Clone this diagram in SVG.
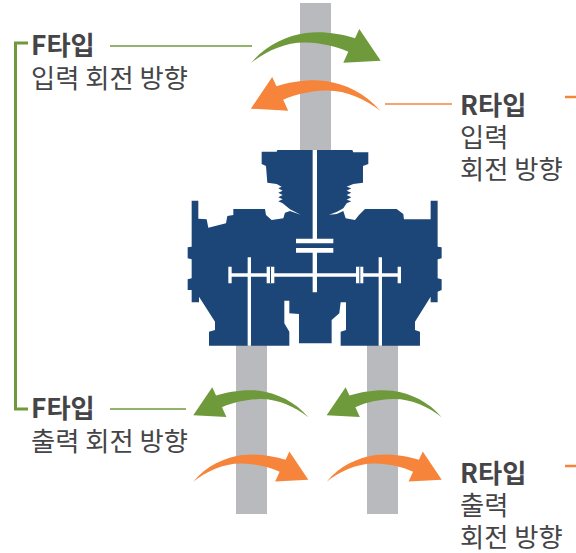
<svg xmlns="http://www.w3.org/2000/svg" width="576" height="553" viewBox="0 0 576 553">
<style>
text{font-family:"Noto Sans CJK KR","Noto Sans",sans-serif;fill:#454547;font-size:26.300px}
.b{font-weight:700}
.shaft{fill:#b9babe}
.g{fill:#6f9a3b}.o{fill:#f6853b}
.lg{stroke:#6f9a3b;fill:none;stroke-width:1.500}
.lo{stroke:#f6853b;fill:none;stroke-width:1.500}
.w{fill:#fff}
</style>
<defs>
<path id="arc" d="M0,0C15,-18 35,-27 55,-30C72,-32 90,-29 104,-24.700L108.300,-34L129.700,-2.300L92.300,-.3L97.300,-11.300C85,-17 70,-20 55,-20.500C35,-21 15,-12 0,0Z"/>
</defs>
<g id="shafts">
<rect class="shaft" x="300" y="3" width="31" height="150"/>
<rect class="shaft" x="236" y="345" width="31" height="169"/>
<rect class="shaft" x="367" y="345" width="31" height="169"/>
</g>
<g id="gearbox" transform="translate(180 140) scale(.3333)">
<path fill="#1c4678" d="M245,35L290,35 292,30 517,30 520,37 565,37 565,72 549,78 549,128 520,132 500,140 514,145 500,152 514,158 500,165 514,172 500,179 514,184 500,190 490,205 470,216 447,224 470,222 490,213 497,235 525,240 537,225 555,207 650,207 670,222 672,238 752,238 752,182 773,182 773,320 785,322 785,355 773,358 773,415 785,418 785,450 773,455 773,487 752,487 752,470 705,545 705,570 720,575 720,617 482,617 482,575 498,570 498,487 482,487 478,520 455,540 455,610 357,610 357,522 328,520 328,482 313,482 313,550 328,575 328,617 87,617 87,575 105,570 105,545 57,470 57,487 35,487 35,450 23,450 23,418 35,415 35,358 23,355 23,322 35,320 35,182 55,182 55,236 80,238 85,263 138,250 142,228 160,225 160,207 255,207 258,225 275,240 310,235 315,218 330,213 362,224 330,208 308,190 295,184 308,178 295,172 308,165 295,158 308,152 295,145 305,140 290,132 262,128 258,78 245,72Z"/>
<path class="w" d="M398,30H411V296H460V310H348V296H398ZM348,324H460V338H411V400H596V352H606V400H653V380H663V430H653V410H606V617H596V410H411V457H398V410H213V617H203V410H155V430H145V380H155V400H203V352H213V400H398V338H348Z"/>
<path class="w" d="M260,380H283V430H260ZM528,380H550V430H528Z"/>
<path fill="#1c4678" d="M270,380H273V430H270ZM538,380H541V430H538Z"/>
</g>
<g id="connectors">
<path class="lg" style="stroke-width:3" d="M28,43H15.500V409H28"/>
<path class="lg" d="M110,46H252M110,409H186"/>
<path class="lo" d="M385,104H452"/>
<path class="lo" style="stroke-width:2.500" d="M565,97H576M565,466H576"/>
</g>
<g id="arrow-f-input"><use href="#arc" class="g" transform="translate(251 63)"/></g>
<g id="arrow-r-input"><use href="#arc" class="o" transform="translate(380.500 111) scale(-1 1)"/></g>
<g id="arrow-f-output-1"><use href="#arc" class="g" transform="translate(308.300 417.300) scale(-.887 .887)"/></g>
<g id="arrow-f-output-2"><use href="#arc" class="g" transform="translate(441.700 417.300) scale(-.887 .887)"/></g>
<g id="arrow-r-output-1"><use href="#arc" class="o" transform="translate(193.300 481.700) scale(.887)"/></g>
<g id="arrow-r-output-2"><use href="#arc" class="o" transform="translate(326.700 481.700) scale(.887)"/></g>
<g id="label-f-input"><text x="31" y="55"><tspan class="b">F타입</tspan><tspan x="31" y="88">입력 회전 방향</tspan></text></g>
<g id="label-r-input"><text x="460" y="115"><tspan class="b">R타입</tspan><tspan x="460" y="147">입력</tspan><tspan x="460" y="179">회전 방향</tspan></text></g>
<g id="label-f-output"><text x="31" y="418"><tspan class="b">F타입</tspan><tspan x="31" y="451">출력 회전 방향</tspan></text></g>
<g id="label-r-output"><text x="460" y="483"><tspan class="b">R타입</tspan><tspan x="460" y="515">출력</tspan><tspan x="460" y="547">회전 방향</tspan></text></g>
</svg>
